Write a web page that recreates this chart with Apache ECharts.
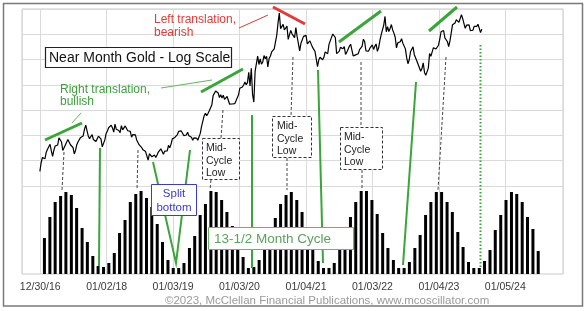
<!DOCTYPE html>
<html><head><meta charset="utf-8">
<script src="https://cdn.jsdelivr.net/npm/echarts/dist/echarts.min.js"></script>
<style>html,body{margin:0;padding:0;background:#fff}#c{width:585px;height:311px}</style>
</head><body><div id="c"></div>
<script>
// ---- x-axis tick labels (first trading day of each year) ----
const tickYears = [2017, 2018, 2019, 2020, 2021, 2022, 2023, 2024];
const xTickLabels = ['12/30/16', '01/02/18', '01/03/19', '01/03/20', '01/04/21', '01/03/22', '01/04/23', '01/05/24'];

// ---- Near month gold, weekly closes (first = 12/30/16, then every Friday) ----
const priceStart = '2016-12-30';
const gold2016 = [1135];
const gold2017 = [1173,1196,1205,1190, 1220,1234,1238,1257, 1226,1201,1230,1249,1249, 1254,1288,1289,1268, 1228,1228,1254,1267, 1280,1271,1255,1256,1242, 1212,1228,1255,1269, 1264,1290,1291,1297, 1330,1351,1324,1297,1284, 1275,1304,1280,1272, 1270,1274,1296,1288, 1282,1245,1252,1278,1309];
const gold2018 = [1322,1338,1332,1351, 1337,1316,1356,1330, 1323,1324,1313,1349,1327, 1335,1347,1338,1323, 1315,1320,1291,1304, 1297,1302,1278,1270,1254, 1255,1241,1231,1231, 1223,1219,1184,1213,1206, 1199,1201,1207,1196, 1207,1221,1229,1236, 1234,1211,1225,1224,1226, 1252,1241,1258,1283];
const gold2019 = [1287,1290,1282,1304, 1320,1318,1322,1332, 1299,1299,1302,1315,1298, 1295,1291,1276,1288, 1281,1287,1276,1285,1311, 1346,1344,1400,1413, 1400,1412,1426,1419, 1457,1509,1523,1537,1540, 1525,1499,1515,1497, 1512,1489,1494,1505, 1514,1462,1468,1463,1465, 1465,1481,1482,1515];
const gold2020 = [1553,1560,1560,1572,1589, 1573,1586,1649,1566, 1674,1516,1474,1654, 1646,1752,1698,1735, 1700,1714,1756,1735,1751, 1683,1737,1753,1780, 1790,1801,1810,1897,1986, 2062,1944,1947,1975, 1934,1947,1962,1866, 1900,1930,1906,1905,1879, 1951,1886,1872,1788, 1840,1840,1888,1883];
const gold2021 = [1895,1835,1829,1856,1850, 1813,1824,1784,1734, 1685,1727,1745,1732, 1729,1744,1780,1777,1768, 1832,1838,1881,1905, 1892,1879,1769,1781, 1784,1811,1815,1802,1817, 1763,1779,1784,1819, 1833,1792,1754,1751, 1761,1757,1768,1796,1784, 1818,1868,1852,1788, 1784,1785,1804,1811,1828];
const gold2022 = [1797,1818,1835,1784, 1808,1860,1900,1889, 1970,2035,1921,1958, 1923,1945,1974,1934,1911, 1882,1808,1842,1851, 1850,1871,1840,1830, 1801,1742,1703,1727,1781, 1791,1815,1762,1749, 1721,1728,1677,1655,1672, 1709,1648,1630,1640, 1675,1769,1751,1754, 1809,1810,1800,1804,1826];
const gold2023 = [1869,1921,1926,1930, 1877,1874,1850,1817, 1856,1867,1973,1983,1986, 2011,2015,1990,1999, 2048,2019,1981,1946, 1969,1977,1971,1929,1929, 1932,1960,1964,1960, 1976,1946,1915,1940];

// ---- 13-1/2 month cycle projection bars (relative units) ----
const barStart = '2017-01-24';
const barStepDays = 29.5;
const cycleBars = [36,57,72,78,82,79,66,46,32,18,8,7,11,21,41,54,72,80,83,76,67,50,32,14,6,6,11,26,38,59,70,83,82,74,62,48,32,17,6,7,14,24,39,56,70,79,82,74,62,47,33,13,6,6,11,24,39,57,72,83,83,74,60,41,26,14,6,6,12,26,39,59,72,82,82,72,62,42,27,12,6,6,13,24,44,59,74,82,80,72,57,45,23];

const DAY = 86400000;
const goldWeekly = [].concat(gold2016, gold2017, gold2018, gold2019, gold2020, gold2021, gold2022, gold2023);
const p0 = new Date(priceStart + 'T00:00:00').getTime();
const priceData = goldWeekly.map((v, i) => [p0 + i * 7 * DAY, v]);
const b0 = new Date(barStart + 'T00:00:00').getTime();
const barData = cycleBars.map((v, i) => [b0 + Math.round(i * barStepDays) * DAY, v]);

const FONT = '"Liberation Sans", Arial, sans-serif';
const GREEN = '#3aa53a', GREEN_T = '#5db85d', RED = '#e23a3a', BLUE = '#3b3bc8', DASH = '#444';

const els = [];
function line(x1, y1, x2, y2, stroke, w, dash) {
  els.push({ type: 'line', shape: { x1, y1, x2, y2 }, style: { stroke, lineWidth: w, lineDash: dash || null } });
}
function rect(x, y, w, h, stroke, dash, lw) {
  els.push({ type: 'rect', shape: { x, y, width: w, height: h }, style: { fill: '#fff', stroke, lineWidth: lw || 1, lineDash: dash || null } });
}
function text(t, x, y, size, fill, align, valign, lh) {
  els.push({ type: 'text', style: { text: t, x, y, font: size + 'px ' + FONT, fontSize: size, fontFamily: FONT, fill,
    align: align || 'left', textAlign: align || 'left', verticalAlign: valign || 'middle', textVerticalAlign: valign || 'middle', lineHeight: lh || size * 1.2 } });
}

// connectors: price -> cycle peaks (dashed)
line(64, 152, 62, 190, DASH, 1, [3, 2]);
line(138, 150, 137, 190, DASH, 1, [3, 2]);
line(223, 110, 221, 138, DASH, 1, [3, 2]);
line(211, 180, 210, 190, DASH, 1, [3, 2]);
line(293, 57, 291, 116, DASH, 1, [3, 2]);
line(287, 158, 287, 190, DASH, 1, [3, 2]);
line(361, 62, 361, 127, DASH, 1, [3, 2]);
line(362, 170, 362, 190, DASH, 1, [3, 2]);
line(446, 57, 438, 190, DASH, 1, [3, 2]);
// cycle lows (green solid)
line(100, 148, 99, 266, GREEN, 2);
line(252, 115, 252, 268, GREEN, 2);
line(318, 70, 323, 263, GREEN, 2);
line(416, 82, 403, 265, GREEN, 2);
els.push({ type: 'polyline', shape: { points: [[153, 162], [176, 263], [190, 150]] }, style: { stroke: GREEN, lineWidth: 2, fill: null } });
line(480.5, 45, 480.5, 269, GREEN, 2, [1.5, 2]);
// translation lines
line(45, 140, 82, 123, GREEN, 3);
line(201, 92, 243, 69, GREEN, 3);
line(339, 42, 381, 11, GREEN, 3);
line(429, 31, 457, 7, GREEN, 3);
line(273, 7, 305, 24, RED, 3);
line(239, 28, 268, 15, RED, 1);
line(161, 88, 212, 80, GREEN_T, 1);
line(72, 123, 81, 113, GREEN_T, 1);
// boxes
rect(45.5, 47.5, 186, 20, '#222', null, 1.2);
text('Near Month Gold - Log Scale', 49, 58, 14, '#111');
text('Left translation,\nbearish', 154, 26, 12, RED, 'left', 'middle', 12.5);
text('Right translation,\nbullish', 60, 96, 12, '#3f9f3f', 'left', 'middle', 12);
rect(202.5, 138.5, 37, 41, '#333', [3, 2]);
text('Mid-\nCycle\nLow', 206, 142, 10.5, '#222', 'left', 'top', 12.5);
rect(272.5, 116.5, 39, 41, '#333', [3, 2]);
text('Mid-\nCycle\nLow', 277, 120, 10.5, '#222', 'left', 'top', 12.5);
rect(340.5, 127.5, 42, 42, '#333', [3, 2]);
text('Mid-\nCycle\nLow', 344, 131, 10.5, '#222', 'left', 'top', 12.5);
rect(151.5, 184.5, 45, 31, BLUE);
text('Split\nbottom', 174, 201, 11.5, BLUE, 'center', 'middle', 14);
rect(208.5, 227.5, 145, 22, '#6ab46a');
text('13-1/2 Month Cycle', 214, 239, 13.5, '#5aa35a');
text('\u00a92023, McClellan Financial Publications, www.mcoscillator.com', 165, 301, 11.5, '#9a9a9a');
// outer frame
els.push({ type: 'rect', shape: { x: 3.5, y: 3.5, width: 579, height: 302.5 }, style: { fill: null, stroke: '#7a7a7a', lineWidth: 1.5 } });
els.forEach((e, i) => { e.z = 50; e.z2 = i; e.silent = true; });

const chart = echarts.init(document.getElementById('c'), null, { renderer: 'canvas' });
chart.setOption({
  animation: false,
  backgroundColor: '#fff',
  grid: [
    { left: 22, right: 22, top: 9, bottom: 37, show: true, borderColor: '#c9c9c9', borderWidth: 1, backgroundColor: 'transparent' },
    { left: 22, right: 22, top: 9, height: 177, show: false }
  ],
  xAxis: [
    { type: 'time', gridIndex: 0, min: new Date('2016-10-01T00:00:00').getTime(), max: new Date('2024-11-05T00:00:00').getTime(),
      splitNumber: 8, minInterval: 365 * DAY,
      axisLine: { show: false }, axisTick: { show: false },
      splitLine: { show: true, lineStyle: { color: '#dadada', width: 1 } },
      axisLabel: { color: '#3a3a3a', fontSize: 10.5, fontFamily: FONT, margin: 8, hideOverlap: false,
        formatter: function (val) {
          const d = new Date(val);
          if (d.getMonth() === 0 && d.getDate() === 1) {
            const i = tickYears.indexOf(d.getFullYear());
            return i >= 0 ? xTickLabels[i] : '';
          }
          return '';
        } } },
    { type: 'value', gridIndex: 1, min: 0, max: 1, show: false }
  ],
  yAxis: [
    { type: 'log', gridIndex: 0, min: 771, max: 2093, show: false },
    { type: 'value', gridIndex: 0, min: 0, max: 265, show: false },
    { type: 'value', gridIndex: 1, min: 0, max: 7, interval: 1, show: true,
      axisLine: { show: false }, axisTick: { show: false }, axisLabel: { show: false },
      splitLine: { show: true, lineStyle: { color: '#dadada', width: 1 } } }
  ],
  series: [
    { type: 'bar', xAxisIndex: 0, yAxisIndex: 1, data: barData, barWidth: 3, itemStyle: { color: '#000' }, silent: true, z: 2 },
    { type: 'line', xAxisIndex: 0, yAxisIndex: 0, data: priceData, showSymbol: false, symbol: 'none',
      lineStyle: { color: '#000', width: 1.2 }, silent: true, z: 3 }
  ],
  graphic: els
});
</script>
</body></html>
